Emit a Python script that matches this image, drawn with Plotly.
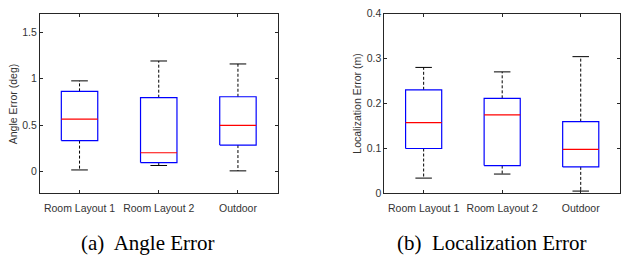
import plotly.graph_objects as go

categories = ["Room Layout 1", "Room Layout 2", "Outdoor"]

# Angle error (deg)
angle_low = [0.017, 0.065, 0.007]
angle_q1 = [0.333, 0.096, 0.285]
angle_med = [0.565, 0.202, 0.497]
angle_q3 = [0.863, 0.795, 0.805]
angle_high = [0.976, 1.19, 1.158]

# Localization error (m)
loc_low = [0.033, 0.042, 0.004]
loc_q1 = [0.099, 0.061, 0.058]
loc_med = [0.157, 0.174, 0.097]
loc_q3 = [0.230, 0.211, 0.159]
loc_high = [0.280, 0.270, 0.304]

angle_ticks = [0, 0.5, 1, 1.5]
angle_ticktext = ["0", "0.5", "1", "1.5"]
loc_ticks = [0, 0.1, 0.2, 0.3, 0.4]
loc_ticktext = ["0", "0.1", "0.2", "0.3", "0.4"]

W, H = 621, 258
HALF = 0.23   # box half width (x units)
CAP = 0.105   # whisker cap half width

fig = go.Figure()


def add_boxes(xa, ya, low, q1, med, q3, high):
    for i in range(len(categories)):
        x = i + 1
        # whiskers (dashed)
        fig.add_trace(go.Scatter(x=[x, x, None, x, x], y=[q3[i], high[i], None, q1[i], low[i]],
                                 mode="lines", line=dict(color="black", width=1, dash="3px,2px"),
                                 xaxis=xa, yaxis=ya, hoverinfo="skip", showlegend=False))
        # caps
        fig.add_trace(go.Scatter(x=[x - CAP, x + CAP, None, x - CAP, x + CAP],
                                 y=[high[i], high[i], None, low[i], low[i]],
                                 mode="lines", line=dict(color="black", width=1),
                                 xaxis=xa, yaxis=ya, hoverinfo="skip", showlegend=False))
        # box
        fig.add_trace(go.Scatter(x=[x - HALF, x + HALF, x + HALF, x - HALF, x - HALF],
                                 y=[q1[i], q1[i], q3[i], q3[i], q1[i]],
                                 mode="lines", line=dict(color="#0000ff", width=1.2),
                                 xaxis=xa, yaxis=ya, hoverinfo="skip", showlegend=False))
        # median
        fig.add_trace(go.Scatter(x=[x - HALF, x + HALF], y=[med[i], med[i]],
                                 mode="lines", line=dict(color="#ff0000", width=1.2),
                                 xaxis=xa, yaxis=ya, hoverinfo="skip", showlegend=False))


add_boxes("x", "y", angle_low, angle_q1, angle_med, angle_q3, angle_high)
add_boxes("x2", "y2", loc_low, loc_q1, loc_med, loc_q3, loc_high)

font_axis = dict(family="Liberation Sans, Arial, sans-serif", size=10.5, color="#333333")
font_cap = dict(family="Liberation Serif, Times New Roman, serif", size=21, color="black")
ydom = [1 - 196 / H, 1 - 8 / H]

common_x = dict(range=[0.5, 3.5], tickmode="array", tickvals=[1, 2, 3], ticktext=categories,
                showline=True, linecolor="#262626", linewidth=1, mirror="ticks",
                ticks="inside", ticklen=3, tickcolor="#262626", showgrid=False, zeroline=False,
                tickfont=font_axis, ticklabelstandoff=6, fixedrange=True)
common_y = dict(showline=True, linecolor="#262626", linewidth=1, mirror="ticks",
                ticks="inside", ticklen=3, tickcolor="#262626", showgrid=False, zeroline=False,
                tickfont=font_axis, fixedrange=True)

fig.update_layout(
    width=W, height=H,
    margin=dict(l=0, r=0, t=0, b=0),
    paper_bgcolor="white", plot_bgcolor="white",
    xaxis=dict(domain=[40 / W, 278 / W], anchor="y", **common_x),
    yaxis=dict(domain=ydom, anchor="x", range=[-0.23, 1.70], tickvals=angle_ticks,
               ticktext=angle_ticktext, **common_y),
    xaxis2=dict(domain=[385 / W, 1.0], anchor="y2", **common_x),
    yaxis2=dict(domain=ydom, anchor="x2", range=[0, 0.4], tickvals=loc_ticks,
                ticktext=loc_ticktext, **common_y),
    annotations=[
        dict(text="Angle Error (deg)", x=13 / W, y=(ydom[0] + ydom[1]) / 2, xref="paper", yref="paper",
             textangle=-90, showarrow=False, xanchor="center", yanchor="middle", font=font_axis),
        dict(text="Localization Error (m)", x=358 / W, y=(ydom[0] + ydom[1]) / 2, xref="paper", yref="paper",
             textangle=-90, showarrow=False, xanchor="center", yanchor="middle", font=font_axis),
        dict(text="(a)  Angle Error", x=148.5 / W, y=1 - 249 / H, xref="paper", yref="paper",
             showarrow=False, xanchor="center", yanchor="middle", font=font_cap),
        dict(text="(b)  Localization Error", x=493 / W, y=1 - 249 / H, xref="paper", yref="paper",
             showarrow=False, xanchor="center", yanchor="middle", font=font_cap),
    ],
)

fig.write_html("out.html", config={"displayModeBar": False},
               post_script="document.body.style.margin='0px';document.body.style.overflow='hidden';")
